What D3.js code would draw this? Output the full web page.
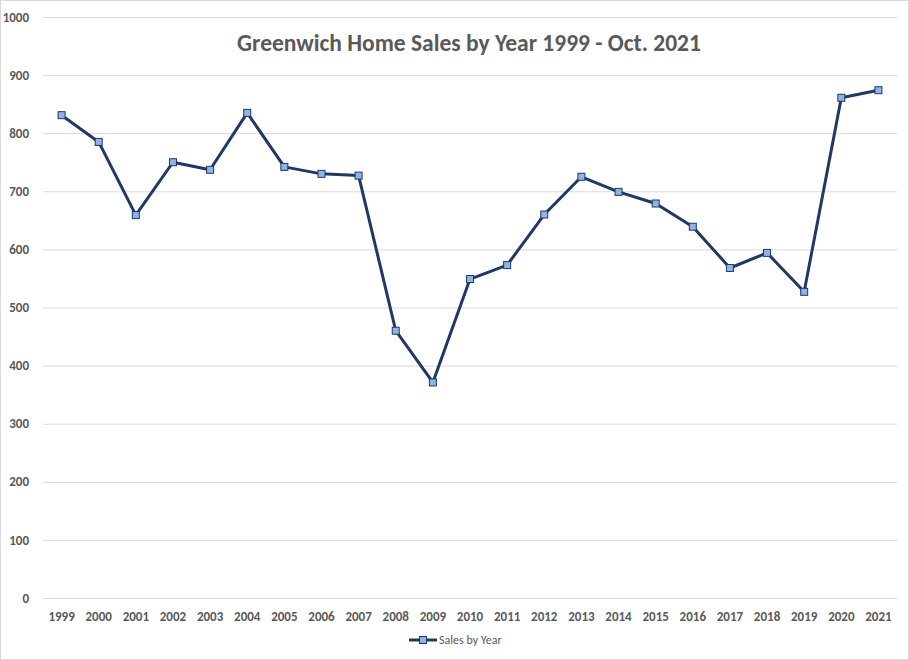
<!DOCTYPE html>
<html>
<head>
<meta charset="utf-8">
<script src="https://cdn.jsdelivr.net/npm/d3@7"></script>
<style>
  html, body { margin: 0; padding: 0; background: #fff; }
  svg { display: block; }
</style>
</head>
<body>
<script>
"use strict";
(function(){
    const years = ["1999","2000","2001","2002","2003","2004","2005","2006","2007","2008","2009",
                   "2010","2011","2012","2013","2014","2015","2016","2017","2018","2019","2020","2021"]
    const sales = [831, 785, 659, 750, 737, 835, 742, 730, 727, 460, 371,
                   549, 573, 660, 725, 699, 679, 639, 568, 594, 527, 861, 874]
    const yTicks = [0, 100, 200, 300, 400, 500, 600, 700, 800, 900, 1000]
    const title = "Greenwich Home Sales by Year 1999 - Oct. 2021"
    const seriesName = "Sales by Year"

    const measurements = {
        width: 909,
        height: 660,
        left: 43,
        right: 897,
        top: 17,
        bottom: 598
    }

    const font = "Calibri, Carlito, Lato, 'Open Sans', sans-serif"
    const textColor = "#595959"
    const lineColor = "#1f3864"
    const markerFill = "#8eb4e3"

    const svg = d3.select("body").append("svg")
        .attr("width", measurements.width)
        .attr("height", measurements.height)

    // outer chart border
    svg.append("rect")
        .attr("x", 0.5).attr("y", 0.5)
        .attr("width", measurements.width - 1)
        .attr("height", measurements.height - 1)
        .attr("fill", "#fff")
        .attr("stroke", "#d9d9d9")

    const scaleX = d3.scaleBand()
        .domain(years)
        .range([measurements.left, measurements.right])

    const scaleY = d3.scaleLinear()
        .domain([0, 1000])
        .range([measurements.bottom, measurements.top])

    // gridlines + y labels
    const yAxis = d3.axisLeft(scaleY)
        .tickValues(yTicks)
        .tickFormat(d3.format("d"))
        .tickSize(-(measurements.right - measurements.left))
        .tickPadding(14)

    const gy = svg.append("g")
        .attr("transform", `translate(${measurements.left},0)`)
        .call(yAxis)
    gy.select(".domain").remove()
    gy.selectAll("line").attr("stroke", "#d9d9d9").attr("stroke-width", 1)
    gy.selectAll("text")
        .attr("fill", textColor)
        .style("font-family", font)
        .style("font-size", "13px")
        .style("font-weight", "bold")

    const xAxis = d3.axisBottom(scaleX)
        .tickSize(0)
        .tickPadding(14)

    const gx = svg.append("g")
        .attr("transform", `translate(0,${measurements.bottom})`)
        .call(xAxis)
    gx.select(".domain").remove()
    gx.selectAll("text")
        .attr("fill", textColor)
        .style("font-family", font)
        .style("font-size", "13px")
        .style("font-weight", "bold")

    const xMap = (d, i) => scaleX(years[i]) + scaleX.bandwidth() / 2
    const yMap = d => scaleY(d)

    const line = d3.line().x(xMap).y(yMap)

    svg.append("path")
        .datum(sales)
        .attr("d", line)
        .attr("fill", "none")
        .attr("stroke", lineColor)
        .attr("stroke-width", 3)
        .attr("stroke-linejoin", "round")

    svg.selectAll(".marker")
        .data(sales)
        .enter()
        .append("rect")
            .attr("class", "marker")
            .attr("x", (d, i) => xMap(d, i) - 3.5)
            .attr("y", d => yMap(d) - 3.5)
            .attr("width", 7)
            .attr("height", 7)
            .attr("fill", markerFill)
            .attr("stroke", lineColor)
            .attr("stroke-width", 1)

    // title
    svg.append("text")
        .attr("x", 469)
        .attr("y", 51)
        .attr("text-anchor", "middle")
        .attr("fill", textColor)
        .style("font-family", font)
        .style("font-size", "23.5px")
        .style("font-weight", "bold")
        .text(title)

    // legend
    const lg = svg.append("g").attr("transform", "translate(409,640)")
    lg.append("line")
        .attr("x1", 0).attr("x2", 28)
        .attr("y1", 0).attr("y2", 0)
        .attr("stroke", lineColor)
        .attr("stroke-width", 3)
    lg.append("rect")
        .attr("x", 10.5).attr("y", -3.5)
        .attr("width", 7).attr("height", 7)
        .attr("fill", markerFill)
        .attr("stroke", lineColor)
    lg.append("text")
        .attr("x", 30)
        .attr("y", 4)
        .attr("fill", textColor)
        .style("font-family", font)
        .style("font-size", "12px")
        .text(seriesName)
})()
</script>
</body>
</html>
